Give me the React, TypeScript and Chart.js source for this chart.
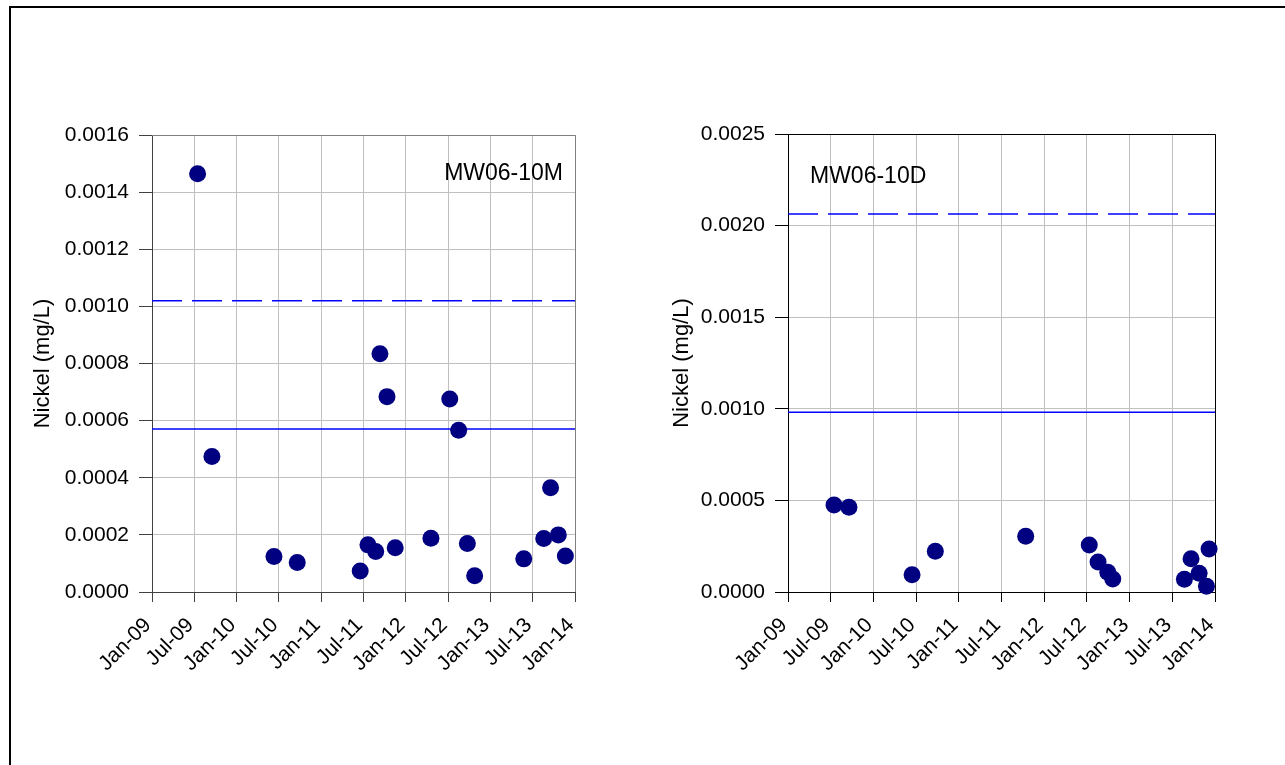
import React, { useEffect, useRef } from "react";
import { Chart, registerables } from "chart.js";

Chart.register(...registerables);

const FONT = '"Liberation Sans", Arial, Helvetica, sans-serif';

// Date axis: a tick every six months, Jan-09 through Jan-14 (values are months since Jan 2009)
const tickMonths = [0, 6, 12, 18, 24, 30, 36, 42, 48, 54, 60];
const tickLabels = [
  "Jan-09", "Jul-09", "Jan-10", "Jul-10", "Jan-11", "Jul-11",
  "Jan-12", "Jul-12", "Jan-13", "Jul-13", "Jan-14",
];

// MW06-10M – sampling dates and dissolved nickel (mg/L)
const sampleDates10M = [
  "2009-07-15", "2009-09-16", "2010-06-10", "2010-09-19", "2011-06-17",
  "2011-07-20", "2011-08-23", "2011-09-11", "2011-10-11", "2011-11-16",
  "2012-04-18", "2012-07-08", "2012-08-16", "2012-09-23", "2012-10-24",
  "2013-05-23", "2013-08-18", "2013-09-17", "2013-10-20", "2013-11-20",
];
const nickel10M = [
  0.001464, 0.000474, 0.000124, 0.000103, 0.0000735,
  0.000165, 0.000142, 0.000834, 0.000684, 0.000155,
  0.000188, 0.000676, 0.000566, 0.00017, 0.000057,
  0.000116, 0.000187, 0.000365, 0.0002, 0.000126,
];
const solidLine10M = 0.000571;
const dashedLine10M = 0.00102;

// MW06-10D – sampling dates and dissolved nickel (mg/L)
const sampleDates10D = [
  "2009-07-15", "2009-09-18", "2010-06-14", "2010-09-22", "2011-10-13",
  "2012-07-11", "2012-08-18", "2012-09-29", "2012-10-20", "2013-08-22",
  "2013-09-20", "2013-10-24", "2013-11-25", "2013-12-06",
];
const nickel10D = [
  0.000475, 0.000462, 0.0000946, 0.000222, 0.000304,
  0.000257, 0.000164, 0.000108, 0.000071, 0.0000693,
  0.000182, 0.000102, 0.000031, 0.000235,
];
const solidLine10D = 0.000981;
const dashedLine10D = 0.002063;

const monthsFromJan09 = (iso: string) => {
  const [y, m, d] = iso.split("-").map(Number);
  return (y - 2009) * 12 + (m - 1) + (d - 1) / 30;
};

// Draws the top/right edges of the plot frame and the well label
const panelDecor = {
  id: "panelDecor",
  beforeDatasetsDraw(chart: any, _args: any, opts: any) {
    const { ctx, chartArea: a } = chart;
    ctx.save();
    ctx.strokeStyle = opts.edgeColor;
    ctx.lineWidth = 1;
    ctx.beginPath();
    ctx.moveTo(a.left, Math.round(a.top) + 0.5);
    ctx.lineTo(Math.round(a.right) + 0.5, Math.round(a.top) + 0.5);
    ctx.lineTo(Math.round(a.right) + 0.5, a.bottom);
    ctx.stroke();

    ctx.font = `23px ${FONT}`;
    ctx.fillStyle = "#000";
    ctx.textBaseline = "alphabetic";
    ctx.textAlign = opts.align;
    const x = opts.align === "right" ? a.right - 12 : a.left + 22;
    ctx.fillText(opts.text, x, a.top + opts.baseline);
    ctx.restore();
  },
};

type PanelProps = {
  left: number;
  top: number;
  width: number;
  height: number;
  dates: string[];
  values: number[];
  solid: number;
  dashed: number;
  yMax: number;
  yStep: number;
  label: string;
  labelAlign: "left" | "right";
  labelBaseline: number;
  titlePad: number;
  axisColor: string;
  edgeColor: string;
};

function Panel(p: PanelProps) {
  const ref = useRef<HTMLCanvasElement | null>(null);

  useEffect(() => {
    if (!ref.current) return;
    const tickFont = { family: FONT, size: 21 };
    const chart = new Chart(ref.current, {
      type: "scatter",
      data: {
        datasets: [
          {
            type: "scatter",
            data: p.dates.map((d, i) => ({ x: monthsFromJan09(d), y: p.values[i] })),
            pointRadius: 8.5,
            pointHoverRadius: 8.5,
            pointBackgroundColor: "#000080",
            pointBorderColor: "#000080",
            pointBorderWidth: 0,
            showLine: false,
            clip: false,
            order: 0,
          } as any,
          {
            type: "line",
            data: [{ x: 0, y: p.solid }, { x: 60, y: p.solid }],
            borderColor: "#0000ff",
            borderWidth: 1.5,
            pointRadius: 0,
            order: 1,
          } as any,
          {
            type: "line",
            data: [{ x: 0, y: p.dashed }, { x: 60, y: p.dashed }],
            borderColor: "#0000ff",
            borderWidth: 1.5,
            borderDash: [30, 10],
            pointRadius: 0,
            order: 2,
          } as any,
        ],
      },
      options: {
        animation: false,
        responsive: false,
        events: [],
        layout: { padding: { left: 0, top: 25, right: 35, bottom: 0 } },
        plugins: {
          legend: { display: false },
          tooltip: { enabled: false },
          panelDecor: {
            text: p.label,
            align: p.labelAlign,
            baseline: p.labelBaseline,
            edgeColor: p.edgeColor,
          },
        } as any,
        scales: {
          x: {
            type: "linear",
            min: 0,
            max: 60,
            afterFit: (s: any) => {
              s.height = 78;
            },
            afterBuildTicks: (s: any) => {
              s.ticks = tickMonths.map((v) => ({ value: v }));
            },
            ticks: {
              autoSkip: false,
              maxRotation: 45,
              minRotation: 45,
              padding: 11,
              labelOffset: -4,
              color: "#000",
              font: tickFont,
              callback: (v: any) => {
                const i = tickMonths.indexOf(Number(v));
                return i >= 0 ? tickLabels[i] : "";
              },
            },
            grid: { color: "#c0c0c0", lineWidth: 1, tickColor: p.axisColor, tickLength: 10 },
            border: { color: p.axisColor, width: 1 },
          },
          y: {
            type: "linear",
            min: 0,
            max: p.yMax,
            afterFit: (s: any) => {
              s.width = 132;
            },
            ticks: {
              stepSize: p.yStep,
              padding: 10,
              color: "#000",
              font: tickFont,
              callback: (v: any) => Number(v).toFixed(4),
            },
            grid: { color: "#c0c0c0", lineWidth: 1, tickColor: p.axisColor, tickLength: 13 },
            border: { color: p.axisColor, width: 1 },
            title: {
              display: true,
              text: "Nickel (mg/L)",
              color: "#000",
              font: { family: FONT, size: 22 },
              padding: { top: p.titlePad, bottom: 0 },
            },
          },
        },
      } as any,
      plugins: [panelDecor],
    });
    return () => chart.destroy();
  }, []);

  return (
    <canvas
      ref={ref}
      width={p.width}
      height={p.height}
      style={{ position: "absolute", left: p.left, top: p.top, width: p.width, height: p.height }}
    />
  );
}

export default function App() {
  return (
    <div
      style={{
        position: "fixed",
        left: 0,
        top: 0,
        width: 1285,
        height: 765,
        overflow: "hidden",
        background: "#fff",
      }}
    >
      <div
        style={{
          position: "absolute",
          left: 9,
          top: 6,
          width: 1400,
          height: 900,
          borderTop: "2px solid #000",
          borderLeft: "2px solid #000",
        }}
      />
      <Panel
        left={20}
        top={110}
        width={590}
        height={560}
        dates={sampleDates10M}
        values={nickel10M}
        solid={solidLine10M}
        dashed={dashedLine10M}
        yMax={0.0016}
        yStep={0.0002}
        label="MW06-10M"
        labelAlign="right"
        labelBaseline={45}
        titlePad={9.3}
        axisColor="#404040"
        edgeColor="#808080"
      />
      <Panel
        left={656}
        top={109}
        width={594}
        height={561}
        dates={sampleDates10D}
        values={nickel10D}
        solid={solidLine10D}
        dashed={dashedLine10D}
        yMax={0.0025}
        yStep={0.0005}
        label="MW06-10D"
        labelAlign="left"
        labelBaseline={49}
        titlePad={12.5}
        axisColor="#000"
        edgeColor="#000"
      />
    </div>
  );
}
